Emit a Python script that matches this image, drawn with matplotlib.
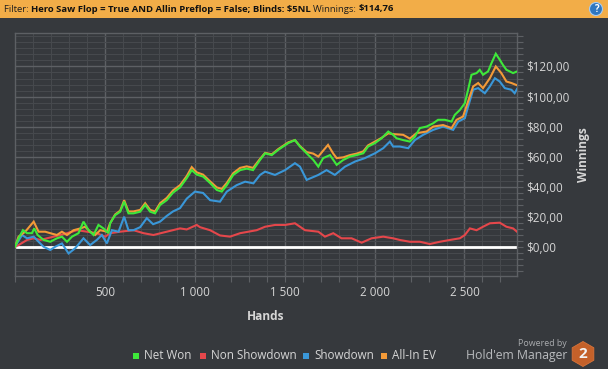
import matplotlib
matplotlib.use("Agg")
import matplotlib.pyplot as plt
from matplotlib.ticker import FixedLocator, MultipleLocator, FuncFormatter
from matplotlib.patches import Rectangle, Circle, RegularPolygon

# ---------------- data (hands, winnings $) ----------------
net_won_hands = [0, 20, 44, 67, 94, 107, 126, 159, 196, 233, 261, 289, 317, 353, 381, 409, 437, 464, 492, 520,
                 529, 557, 585, 607, 631, 659, 696, 724, 752, 779, 807, 844, 879, 918, 955, 983, 1011, 1046, 1085,
                 1122, 1150, 1178, 1214, 1252, 1289, 1324, 1363, 1391, 1428, 1464, 1520, 1557, 1585, 1622, 1659,
                 1687, 1714, 1752, 1789, 1826, 1863, 1900, 1937, 1964, 2002, 2039, 2076, 2103, 2122, 2159, 2196,
                 2224, 2252, 2289, 2326, 2353, 2391, 2428, 2446, 2474, 2502, 2520, 2539, 2567, 2585, 2603, 2631,
                 2650, 2674, 2696, 2714, 2733, 2752, 2770, 2792]
net_won = [0, 5.6, 11, 9, 9, 12.2, 7.8, 4.5, 3.3, 5.6, 6.7, 3.3, 6.7, 9, 16.7, 11, 7.8, 14.5, 12.2, 9,
           15.6, 21, 23.3, 30, 22.2, 22.2, 23.3, 27.8, 23.3, 22.2, 27.8, 31, 36, 39.5, 45.6, 51, 48, 46.7, 42.4,
           37.8, 36.7, 41, 47.8, 51, 52, 51, 57.8, 62.2, 61, 64.5, 69, 71, 66.7, 62.2, 57.8,
           53.3, 59, 61, 54.5, 57.8, 60, 61, 62.2, 66.7, 69, 72.2, 76.7, 74.5, 72.2, 71, 70,
           73.3, 79, 80, 82.2, 84.5, 84.5, 83.3, 87.8, 91, 95.6, 104.5, 114.5, 115.6, 117.8, 114.5, 116.7,
           122.2, 128.5, 124.5, 121, 117.8, 116.7, 115.6, 116.7]

non_sd_hands = [0, 20, 67, 104, 141, 178, 215, 252, 289, 344, 400, 455, 502, 529, 585, 659, 715, 770, 844, 918,
                955, 1011, 1029, 1085, 1140, 1196, 1252, 1344, 1391, 1446, 1502, 1557, 1613, 1687, 1724, 1770,
                1816, 1872, 1928, 1983, 2048, 2103, 2140, 2196, 2252, 2307, 2363, 2419, 2474, 2502, 2530, 2567,
                2603, 2641, 2696, 2733, 2770, 2792]
non_showdown = [0, 1.1, 4.5, 5.6, 4.5, 5.6, 6.7, 7.8, 9, 11, 10, 9, 6.7, 9, 10, 11, 9, 7.8, 10, 12.2,
                11.5, 14.5, 13, 11, 7.5, 6.7, 9, 11, 13.3, 14.5, 14.5, 15.6, 11, 10, 6.7, 9,
                5.6, 5.6, 2.7, 5.6, 6.7, 5.6, 4.5, 3.3, 3.3, 1.8, 3.3, 4.5, 5.6, 7.8, 12.2, 11,
                13.3, 15.6, 16, 13.3, 12.2, 10]

sd_hands = [0, 39, 67, 104, 131, 159, 196, 224, 261, 298, 335, 381, 418, 455, 483, 511, 539, 576, 607, 631,
            659, 696, 733, 768, 807, 844, 879, 918, 955, 1001, 1046, 1085, 1140, 1178, 1233, 1280, 1326, 1363,
            1391, 1446, 1502, 1557, 1585, 1622, 1687, 1733, 1779, 1835, 1891, 1946, 2002, 2048, 2085, 2103,
            2140, 2187, 2224, 2270, 2326, 2381, 2437, 2465, 2502, 2520, 2548, 2576, 2613, 2641, 2669, 2696,
            2724, 2761, 2779, 2792]
showdown = [0, 7.8, 5.6, 6.7, 3.3, 0, -2.2, 0, 2.2, -4.5, -1, 5.6, 1.1, 4.5, 7.8, 2.2, 11, 10, 20, 11,
            11, 13, 19, 15, 16.7, 20.5, 23.5, 25.7, 32, 36.7, 35.8, 31, 30, 36.7, 41, 43.3, 42.2, 47.8,
            50, 47.8, 51, 55.6, 53.3, 44.5, 47.8, 51, 47.8, 53.3, 56.7, 59, 62.2, 65.6, 70, 66.7,
            66.7, 65.6, 71, 74.5, 77.8, 80, 77.8, 83.3, 85.6, 93.3, 104.5, 105.6, 102.2, 106.7, 112.2, 110,
            105.6, 104.5, 102.2, 105]

ev_hands = [0, 20, 57, 104, 131, 168, 196, 233, 261, 289, 326, 364, 390, 418, 446, 474, 511, 529, 557, 585,
            607, 631, 659, 696, 724, 752, 779, 807, 844, 879, 918, 955, 983, 1011, 1046, 1085, 1122, 1150,
            1178, 1214, 1252, 1289, 1324, 1363, 1391, 1428, 1464, 1520, 1557, 1585, 1622, 1659, 1687, 1714,
            1741, 1770, 1789, 1826, 1863, 1900, 1937, 1964, 2002, 2039, 2076, 2103, 2159, 2196, 2233, 2289,
            2326, 2381, 2428, 2456, 2492, 2520, 2548, 2576, 2603, 2641, 2674, 2705, 2733, 2761, 2792]
allin_ev = [0, 6.7, 10, 16.7, 10, 10, 9, 7.8, 10, 7.8, 11, 12.2, 13.3, 10, 7.8, 11, 10, 15.6, 21.5, 24,
            31, 23.5, 23.5, 24.5, 29, 24.5, 23.5, 29, 32.5, 37.5, 41, 47, 53, 49.5, 48, 43.5, 39.5, 38.5,
            42.5, 49, 52.5, 53.5, 52.5, 58.5, 62.5, 61.5, 65, 69.5, 71, 67, 63, 62, 60, 64,
            67.8, 62, 59, 59.5, 61, 62, 63.5, 67.5, 70, 72.5, 75.5, 75, 74.5, 72, 75.6, 76.7,
            80, 81, 79, 84.5, 86.7, 96.7, 106.7, 109, 105.6, 112.2, 120, 115.6, 110, 109, 107.5]

series_names = ["Net Won", "Non Showdown", "Showdown", "All-In EV"]
series_colors = ["#3ee83a", "#e5474b", "#3a97d8", "#f39a38"]

y_major = [0, 20, 40, 60, 80, 100, 120]
x_major = [500, 1000, 1500, 2000, 2500]

# ---------------- style ----------------
BG = "#36393d"
TXT = "#d6d6d6"
FONT = ["Open Sans", "DejaVu Sans"]
plt.rcParams["font.family"] = FONT

fig = plt.figure(figsize=(6.08, 3.69), dpi=100, facecolor=BG)
W, H = 608, 369
px_tr = fig.dpi_scale_trans  # inches; 1 px = 0.01 in

def fx(px):
    return px / W

def fy(py):
    return 1 - py / H

# header bar
fig.patches.append(Rectangle((0, fy(18)), 1, 18 / H, transform=fig.transFigure,
                             facecolor="#f2ad48", edgecolor="none", zorder=0))
HFS = 6.8
t1 = fig.text(fx(4), fy(9), "Filter: ", fontsize=HFS, color="#1e1e1e", va="center", ha="left")
t2 = fig.text(0, 0, "Hero Saw Flop = True AND Allin Preflop = False; Blinds: $5NL ", fontsize=HFS,
              fontweight="bold", color="#111111", va="bottom", ha="left")
t3 = fig.text(0, 0, "Winnings: ", fontsize=HFS, color="#1e1e1e", va="bottom", ha="left")
t4 = fig.text(0, 0, "$114,76", fontsize=HFS, fontweight="bold", color="#111111", va="bottom", ha="left")
fig.canvas.draw()
r = fig.canvas.get_renderer()
prev = t1
for t in (t2, t3, t4):
    bb = prev.get_window_extent(r)
    t.set_position(fig.transFigure.inverted().transform((bb.x1, bb.y0)))
    fig.canvas.draw()
    prev = t

# help icon
fig.patches.append(Circle((5.96, (H - 9) / 100), 0.065, transform=px_tr,
                          facecolor="#2f77c0", edgecolor="#a8cbee", linewidth=0.8, zorder=2))
fig.text(fx(596), fy(9.3), "?", fontsize=7, fontweight="bold", color="white", ha="center", va="center", zorder=3)

# axes
ax = fig.add_axes([fx(15), fy(276), fx(517) - fx(15), (276 - 33) / H])
ax.set_facecolor(BG)
ax.set_xlim(0, 2792)
ax.set_ylim(-19.5, 142.3)

ax.xaxis.set_major_locator(FixedLocator(x_major))
ax.xaxis.set_minor_locator(MultipleLocator(100))
ax.yaxis.set_major_locator(FixedLocator(y_major))
ax.yaxis.set_minor_locator(MultipleLocator(4))
ax.xaxis.set_major_formatter(FuncFormatter(lambda v, p: f"{int(v):,}".replace(",", " ")))
ax.yaxis.set_major_formatter(FuncFormatter(lambda v, p: "$" + f"{v:.2f}".replace(".", ",")))

ax.grid(which="major", color="#5d6064", linewidth=1.0, zorder=0)
ax.grid(which="minor", color="#46494d", linewidth=0.8, zorder=0)
ax.set_axisbelow(True)
for s in ax.spines.values():
    s.set_color("#5d6064")
    s.set_linewidth(1.0)

ax.yaxis.tick_right()
ax.tick_params(axis="both", which="both", colors="#5d6064", labelcolor=TXT, labelsize=8.4)
ax.tick_params(axis="x", which="both", length=4, width=0.8, pad=3)
ax.tick_params(axis="y", which="both", length=4, width=0.8, pad=3)

ax.axhline(0, color="white", linewidth=2.0, zorder=2)

data = {
    "Non Showdown": (non_sd_hands, non_showdown),
    "Showdown": (sd_hands, showdown),
    "All-In EV": (ev_hands, allin_ev),
    "Net Won": (net_won_hands, net_won),
}
color_map = dict(zip(series_names, series_colors))
for i, name in enumerate(["Non Showdown", "Showdown", "All-In EV", "Net Won"]):
    h, v = data[name]
    ax.plot(h, v, color=color_map[name], linewidth=1.5, zorder=3 + i, solid_joinstyle="miter")

ax.set_xlabel("Hands", fontsize=8.6, fontweight="bold", color=TXT, labelpad=8)
ax.yaxis.set_label_position("right")
ax.set_ylabel("Winnings", fontsize=8.6, fontweight="bold", color=TXT, labelpad=5)

# legend
leg_sq_x = [133, 200, 303, 381]
for name, c, sx in zip(series_names, series_colors, leg_sq_x):
    fig.patches.append(Rectangle((fx(sx), fy(358.5)), 5.5 / W, 5.5 / H, transform=fig.transFigure,
                                 facecolor=c, edgecolor="none"))
    fig.text(fx(sx + 11), fy(355.7), name, fontsize=8.4, color=TXT, ha="left", va="center")

# branding
fig.text(fx(567), fy(343.5), "Powered by", fontsize=6.4, color="#a9abae", ha="right", va="center")
fig.text(fx(567), fy(355.7), "Hold'em Manager", fontsize=8.8, color="#b9bbbe", ha="right", va="center")
fig.patches.append(RegularPolygon((5.83, (H - 354) / 100), 6, radius=0.125, orientation=0,
                                  transform=px_tr, facecolor="#c4612a", edgecolor="#d9743a",
                                  linewidth=0.6))
fig.text(fx(583), fy(353.5), "2", fontsize=11, fontweight="bold", color="#f3f3f3", ha="center", va="center")

fig.savefig("out.png", dpi=100, facecolor=BG)
